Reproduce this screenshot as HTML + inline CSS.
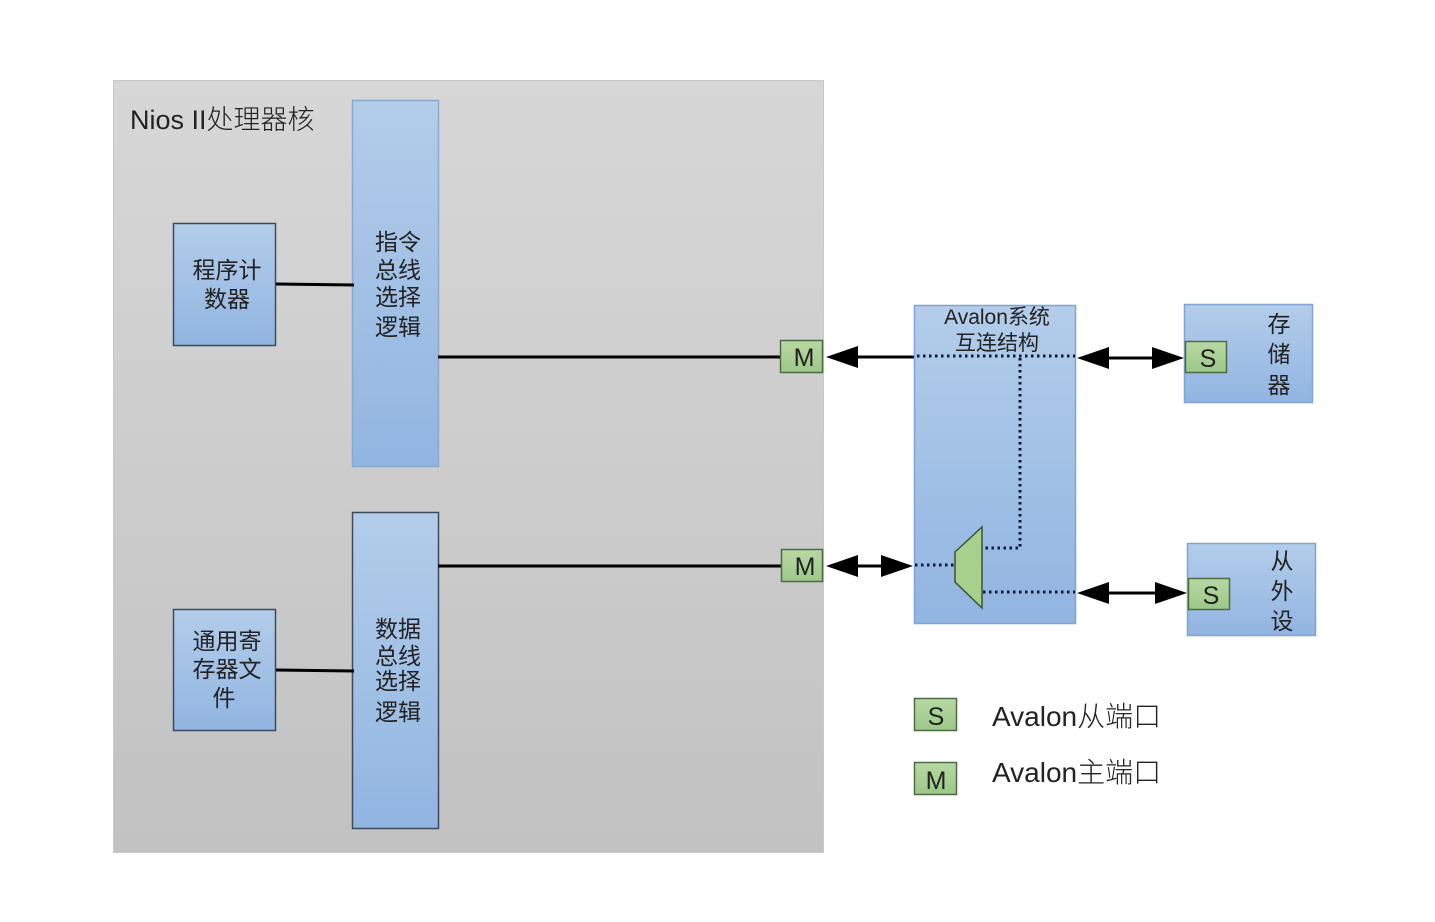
<!DOCTYPE html>
<html><head><meta charset="utf-8"><style>
html,body{margin:0;padding:0;background:#fff;}
svg{display:block;}
text{font-family:"Liberation Sans","Noto Sans CJK SC",sans-serif;fill:#222;}
</style></head><body>
<svg width="1435" height="922" viewBox="0 0 1435 922" xmlns="http://www.w3.org/2000/svg">
<defs>
<linearGradient id="gr" x1="0" y1="0" x2="0" y2="1"><stop offset="0" stop-color="#d7d7d7"/><stop offset="1" stop-color="#c2c2c2"/></linearGradient>
<linearGradient id="bl" x1="0" y1="0" x2="0" y2="1"><stop offset="0" stop-color="#b3cdea"/><stop offset="1" stop-color="#91b5e1"/></linearGradient>
<linearGradient id="gn" x1="0" y1="0" x2="0" y2="1"><stop offset="0" stop-color="#b7d9a3"/><stop offset="1" stop-color="#9cc888"/></linearGradient>
</defs>
<rect x="113.5" y="80.5" width="710" height="772" fill="url(#gr)" stroke="#c8c8c8"/>
<text x="130" y="129" font-size="27" font-weight="300">Nios II处理器核</text>

<rect x="173.5" y="223.5" width="102" height="122" fill="url(#bl)" stroke="#3b4a5c" stroke-width="1.5"/>
<text x="227" y="278" font-size="23" text-anchor="middle">程序计</text>
<text x="227" y="307" font-size="23" text-anchor="middle">数器</text>

<rect x="352.5" y="100.5" width="86" height="366" fill="url(#bl)" stroke="#8aa8d0" stroke-width="1.5"/>
<text x="398" y="250" font-size="23" text-anchor="middle">指令</text>
<text x="398" y="278" font-size="23" text-anchor="middle">总线</text>
<text x="398" y="305" font-size="23" text-anchor="middle">选择</text>
<text x="398" y="335" font-size="23" text-anchor="middle">逻辑</text>

<rect x="352.5" y="512.5" width="86" height="316" fill="url(#bl)" stroke="#3b4a5c" stroke-width="1.5"/>
<text x="398" y="637" font-size="23" text-anchor="middle">数据</text>
<text x="398" y="664" font-size="23" text-anchor="middle">总线</text>
<text x="398" y="689" font-size="23" text-anchor="middle">选择</text>
<text x="398" y="720" font-size="23" text-anchor="middle">逻辑</text>

<rect x="173.5" y="609.5" width="102" height="121" fill="url(#bl)" stroke="#3b4a5c" stroke-width="1.5"/>
<text x="227" y="649" font-size="23" text-anchor="middle">通用寄</text>
<text x="227" y="677" font-size="23" text-anchor="middle">存器文</text>
<text x="224" y="706" font-size="23" text-anchor="middle">件</text>

<g stroke="#000" stroke-width="3">
<line x1="276" y1="284" x2="354" y2="285"/>
<line x1="276" y1="670" x2="354" y2="671"/>
<line x1="438" y1="357" x2="781" y2="357"/>
<line x1="438" y1="566" x2="782" y2="566"/>
<line x1="855" y1="357" x2="915" y2="357"/>
<line x1="855" y1="566" x2="885" y2="566"/>
<line x1="1105" y1="358" x2="1155" y2="358"/>
<line x1="1105" y1="593" x2="1158" y2="593"/>
</g>

<rect x="780.5" y="340.5" width="42" height="32" fill="url(#gn)" stroke="#4f6b44" stroke-width="1.5"/>
<text x="804" y="366" font-size="25" text-anchor="middle" font-weight="300">M</text>
<rect x="781.5" y="549.5" width="41" height="32" fill="url(#gn)" stroke="#4f6b44" stroke-width="1.5"/>
<text x="805" y="575" font-size="25" text-anchor="middle" font-weight="300">M</text>

<rect x="914.5" y="305.5" width="161" height="318" fill="url(#bl)" stroke="#7fa3d2" stroke-width="1.5"/>
<text x="997" y="324" font-size="21" text-anchor="middle">Avalon系统</text>
<text x="997" y="350" font-size="21" text-anchor="middle">互连结构</text>

<g stroke="#0e1a33" stroke-width="3" stroke-dasharray="2.5 3.5" fill="none">
<line x1="917" y1="356" x2="1075" y2="356"/>
<polyline points="1020,358 1020,548 983,548"/>
<line x1="915" y1="565" x2="955" y2="565"/>
<line x1="983" y1="592" x2="1075" y2="592"/>
</g>
<polygon points="955,552 982,527 982,608 955,582" fill="#a8d08d" stroke="#3d5236" stroke-width="1.5"/>

<g fill="#000">
<polygon points="826,357 858,346 858,368"/>
<polygon points="826,566 858,555 858,577"/>
<polygon points="913,566 881,555 881,577"/>
<polygon points="1077,358 1109,347 1109,369"/>
<polygon points="1184,358 1152,347 1152,369"/>
<polygon points="1077,593 1109,582 1109,604"/>
<polygon points="1187,593 1155,582 1155,604"/>
</g>

<rect x="1184.5" y="304.5" width="128" height="98" fill="url(#bl)" stroke="#7fa3d2" stroke-width="1.5"/>
<text x="1279" y="332" font-size="23" text-anchor="middle">存</text>
<text x="1279" y="362" font-size="23" text-anchor="middle">储</text>
<text x="1279" y="393" font-size="23" text-anchor="middle">器</text>
<rect x="1185.5" y="341.5" width="41" height="31" fill="url(#gn)" stroke="#4f6b44" stroke-width="1.5"/>
<text x="1208" y="367" font-size="25" text-anchor="middle" font-weight="300">S</text>

<rect x="1187.5" y="543.5" width="128" height="92" fill="url(#bl)" stroke="#7fa3d2" stroke-width="1.5"/>
<text x="1282" y="569" font-size="23" text-anchor="middle">从</text>
<text x="1282" y="599" font-size="23" text-anchor="middle">外</text>
<text x="1282" y="629" font-size="23" text-anchor="middle">设</text>
<rect x="1188.5" y="578.5" width="41" height="31" fill="url(#gn)" stroke="#4f6b44" stroke-width="1.5"/>
<text x="1211" y="604" font-size="25" text-anchor="middle" font-weight="300">S</text>

<rect x="914.5" y="698.5" width="42" height="32" fill="url(#gn)" stroke="#4f6b44" stroke-width="1.5"/>
<text x="936" y="725" font-size="25" text-anchor="middle" font-weight="300">S</text>
<text x="992" y="726" font-size="28" font-weight="300">Avalon从端口</text>
<rect x="914.5" y="762.5" width="42" height="32" fill="url(#gn)" stroke="#4f6b44" stroke-width="1.5"/>
<text x="936" y="789" font-size="25" text-anchor="middle" font-weight="300">M</text>
<text x="992" y="782" font-size="28" font-weight="300">Avalon主端口</text>
</svg>
</body></html>
